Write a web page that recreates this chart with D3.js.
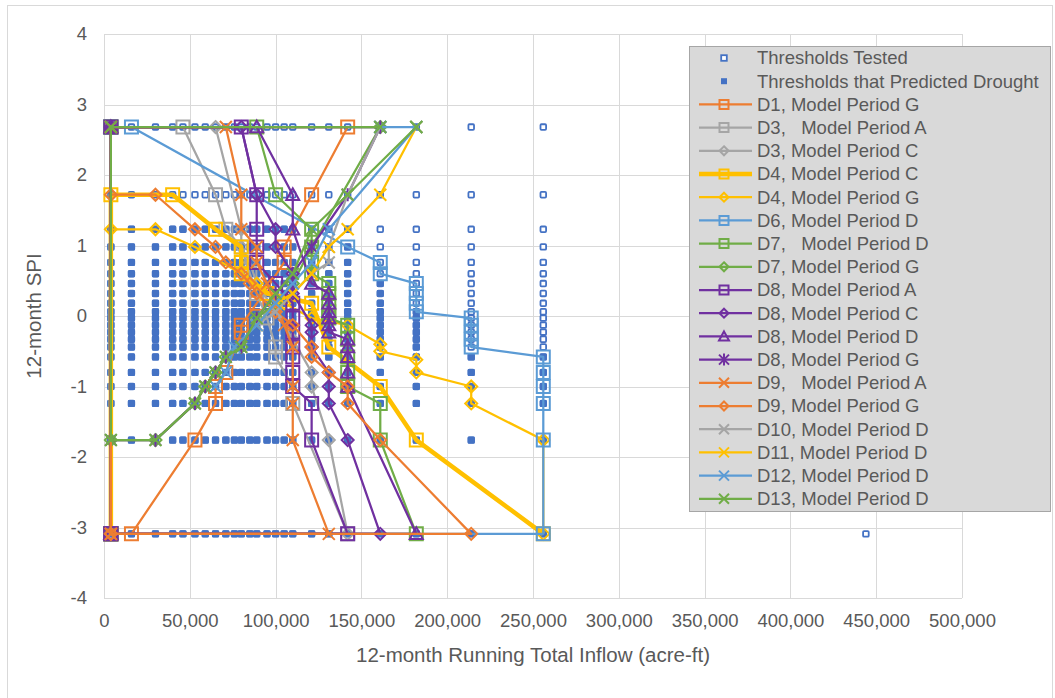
<!DOCTYPE html>
<html>
<head>
<meta charset="utf-8">
<script src="https://cdn.jsdelivr.net/npm/d3@7"></script>
<style>
  html, body { margin: 0; padding: 0; background: #ffffff; }
  svg text { font-family: "Liberation Sans", Arial, sans-serif; fill: #595959; }
</style>
</head>
<body>
<svg id="chart" width="1055" height="698"></svg>
<script>
// ---- threshold grid (12-month running total inflow x 12-month SPI) ----
const inflowColumns = [4000, 16000, 30000, 40000, 46000, 53000, 59000, 65000, 71000, 76000,
  80000, 85000, 89000, 95000, 100000, 105000, 110000, 121000, 131000, 142000,
  161000, 182000, 214000, 256000];
const spiRows = [2.68, 1.72, 1.23, 0.98, 0.76, 0.6, 0.46, 0.32, 0.18, 0.06, -0.03,
  -0.13, -0.23, -0.33, -0.44, -0.58, -0.8, -1.0, -1.24, -1.76, -3.09];
// highest SPI row that predicted drought, per inflow column
const predictedMaxSpi = [1.23, 1.23, 1.23, 1.23, 1.23, 1.23, 1.23, 1.23, 1.23, 1.23,
  1.23, 1.23, 1.23, 1.23, 1.23, 1.23, 1.23, 1.23, 1.23, 1.23,
  0.46, 0.06, -0.58, -0.58];
const extraTested = [[444000, -3.09]];

const xTicks = [0, 50000, 100000, 150000, 200000, 250000, 300000, 350000, 400000, 450000, 500000];
const yTicks = [-4, -3, -2, -1, 0, 1, 2, 3, 4];

// ---- drought threshold envelopes ----
const d1G = [[4000,-3.09],[16000,-3.09],[53000,-1.76],[65000,-1.24],[65000,-1.0],[71000,-0.8],[80000,-0.23],[80000,-0.13],[89000,0.18],[105000,0.76],[105000,0.98],[121000,1.72],[142000,2.68],[4000,2.68],[4000,-3.09]];
const d3A = [[4000,-3.09],[4000,2.68],[46000,2.68],[65000,1.72],[71000,1.23],[80000,0.98],[85000,0.6],[89000,0.32],[95000,-0.03],[100000,-0.44],[100000,-0.58],[110000,-1.0],[110000,-1.24],[142000,-3.09],[4000,-3.09]];
const d3C = [[4000,-3.09],[4000,2.68],[65000,2.68],[80000,1.23],[80000,0.98],[85000,0.76],[89000,0.46],[100000,0.06],[110000,-0.33],[121000,-0.8],[121000,-1.0],[131000,-1.76],[142000,-3.09],[4000,-3.09]];
const d4C = [[4000,-3.09],[4000,1.72],[40000,1.72],[65000,1.23],[80000,0.98],[80000,0.76],[80000,0.6],[95000,0.32],[121000,0.18],[131000,-0.44],[161000,-1.0],[182000,-1.76],[256000,-3.09]];
const d4G = [[4000,-3.09],[4000,1.23],[30000,1.23],[53000,0.98],[80000,0.6],[89000,0.46],[105000,0.18],[121000,-0.03],[142000,-0.13],[161000,-0.4],[161000,-0.5],[182000,-0.62],[182000,-0.8],[214000,-1.0],[214000,-1.24],[256000,-1.76],[256000,-3.09]];
const d6D = [[4000,2.68],[16000,2.68],[142000,0.98],[161000,0.76],[161000,0.6],[182000,0.46],[182000,0.32],[182000,0.18],[182000,0.06],[214000,-0.03],[214000,-0.13],[214000,-0.23],[214000,-0.33],[214000,-0.44],[256000,-0.58],[256000,-0.8],[256000,-1.0],[256000,-1.24],[256000,-1.76],[256000,-3.09],[4000,-3.09],[4000,2.68]];
const d7D = [[4000,-3.09],[4000,2.68],[89000,2.68],[100000,1.72],[121000,1.23],[121000,0.98],[121000,0.76],[121000,0.6],[131000,0.46],[131000,0.32],[131000,0.18],[131000,0.06],[131000,-0.03],[142000,-0.13],[142000,-0.33],[142000,-0.58],[142000,-0.8],[142000,-1.0],[161000,-1.24],[161000,-1.76],[182000,-3.09],[4000,-3.09]];
const d7G = [[4000,2.68],[4000,-1.76],[30000,-1.76],[53000,-1.24],[59000,-1.0],[65000,-0.8],[71000,-0.58],[80000,-0.44],[89000,-0.03],[100000,0.18],[110000,0.46],[121000,0.98],[161000,2.68],[4000,2.68]];
const d8A = [[4000,-3.09],[4000,2.68],[80000,2.68],[89000,1.72],[89000,1.23],[89000,0.98],[89000,0.76],[100000,0.46],[110000,0.18],[110000,-0.03],[110000,-0.23],[110000,-0.44],[110000,-0.58],[110000,-0.8],[110000,-1.0],[121000,-1.24],[121000,-1.76],[142000,-3.09],[4000,-3.09]];
const d8C = [[4000,-3.09],[4000,2.68],[80000,2.68],[89000,1.72],[100000,1.23],[100000,0.98],[110000,0.6],[110000,0.32],[121000,-0.13],[121000,-0.23],[121000,-0.44],[131000,-0.8],[131000,-1.0],[131000,-1.24],[142000,-1.76],[161000,-3.09],[4000,-3.09]];
const d8D = [[4000,-3.09],[4000,2.68],[89000,2.68],[110000,1.72],[110000,1.23],[121000,0.46],[131000,0.32],[131000,0.18],[131000,0.06],[131000,-0.03],[131000,-0.13],[131000,-0.23],[142000,-0.33],[142000,-0.44],[142000,-0.58],[142000,-0.8],[142000,-1.0],[182000,-3.09],[4000,-3.09]];
const d8G = [[4000,2.68],[4000,-1.76],[30000,-1.76],[53000,-1.24],[59000,-1.0],[65000,-0.8],[71000,-0.58],[80000,-0.44],[89000,-0.03],[100000,0.32],[110000,0.6],[121000,0.98],[142000,1.72],[161000,2.68],[4000,2.68]];
const d9A = [[4000,-3.09],[4000,2.68],[71000,2.68],[80000,1.72],[80000,1.23],[89000,0.98],[89000,0.76],[95000,0.46],[100000,0.18],[105000,-0.13],[110000,-0.44],[110000,-1.0],[110000,-1.24],[110000,-1.76],[131000,-3.09],[4000,-3.09]];
const d9G = [[4000,-3.09],[4000,1.72],[30000,1.72],[53000,1.23],[65000,0.98],[71000,0.76],[80000,0.6],[85000,0.46],[89000,0.32],[100000,0.06],[110000,-0.13],[121000,-0.44],[121000,-0.58],[131000,-0.8],[142000,-1.0],[142000,-1.24],[161000,-1.76],[214000,-3.09],[4000,-3.09]];
const d10D = [[89000,-0.13],[100000,0.06],[110000,0.32],[121000,0.6],[131000,0.76],[131000,0.98],[142000,1.72],[161000,2.68]];
const d11D = [[89000,-0.13],[100000,0.18],[110000,0.32],[121000,0.6],[131000,0.98],[142000,1.23],[161000,1.72],[182000,2.68]];
const d12D = [[65000,-1.0],[71000,-0.8],[76000,-0.44],[89000,-0.13],[100000,0.18],[110000,0.46],[121000,0.76],[131000,1.23],[182000,2.68],[161000,2.68]];
const d13D = [[161000,2.68],[4000,2.68],[4000,-1.76],[30000,-1.76],[53000,-1.24],[59000,-1.0],[65000,-0.8],[71000,-0.58],[80000,-0.44],[89000,-0.03],[100000,0.32],[110000,0.6],[121000,1.23],[142000,1.72],[182000,2.68]];

const seriesNames = ["D1, Model Period G", "D3,   Model Period A", "D3, Model Period C",
  "D4, Model Period C", "D4, Model Period G", "D6, Model Period D", "D7,   Model Period D",
  "D7, Model Period G", "D8, Model Period A", "D8, Model Period C", "D8, Model Period D",
  "D8, Model Period G", "D9,   Model Period A", "D9, Model Period G", "D10, Model Period D",
  "D11, Model Period D", "D12, Model Period D", "D13, Model Period D"];
const seriesPoints = [d1G, d3A, d3C, d4C, d4G, d6D, d7D, d7G, d8A, d8C, d8D, d8G, d9A, d9G, d10D, d11D, d12D, d13D];
const seriesColors = ["#ED7D31", "#A5A5A5", "#A5A5A5", "#FFC000", "#FFC000", "#5B9BD5", "#70AD47",
  "#70AD47", "#7030A0", "#7030A0", "#7030A0", "#7030A0", "#ED7D31", "#ED7D31", "#A5A5A5",
  "#FFC000", "#5B9BD5", "#70AD47"];
const seriesMarkers = ["square", "square", "diamond", "square", "diamond", "square", "square",
  "diamond", "square", "diamond", "triangle", "star", "x", "diamond", "x", "x", "x", "x"];
const seriesWidths = [2.25, 2.25, 2.25, 4.5, 2.25, 2.25, 2.25, 2.25, 2.25, 2.25, 2.25, 2.25,
  2.25, 2.25, 2.25, 2.25, 2.25, 2.25];

// ---- marker shapes for d3.symbol (size = half extent in px) ----
const markerTypes = {
  square: { draw(c, r) { c.moveTo(-r, -r); c.lineTo(r, -r); c.lineTo(r, r); c.lineTo(-r, r); c.closePath(); } },
  diamond: { draw(c, r) { c.moveTo(0, -r); c.lineTo(r, 0); c.lineTo(0, r); c.lineTo(-r, 0); c.closePath(); } },
  triangle: { draw(c, r) { c.moveTo(0, -r); c.lineTo(r, r * 0.8); c.lineTo(-r, r * 0.8); c.closePath(); } },
  x: { draw(c, r) { c.moveTo(-r, -r); c.lineTo(r, r); c.moveTo(r, -r); c.lineTo(-r, r); } },
  star: { draw(c, r) { c.moveTo(-r, -r); c.lineTo(r, r); c.moveTo(r, -r); c.lineTo(-r, r); c.moveTo(0, -r * 1.2); c.lineTo(0, r * 1.2); } }
};
const markerSize = { square: 6.5, diamond: 6, triangle: 6.5, x: 6, star: 5.5 };
const legendMarkerSize = { square: 4.5, diamond: 4.5, triangle: 5, x: 5, star: 5 };

const svg = d3.select("#chart");
const x = d3.scaleLinear().domain([0, 500000]).range([104, 962]);
const y = d3.scaleLinear().domain([-4, 4]).range([598, 34]);

// outer chart border
svg.append("rect").attr("x", 7.5).attr("y", 5.5).attr("width", 1045).attr("height", 700)
  .attr("fill", "#ffffff").attr("stroke", "#D9D9D9").attr("stroke-width", 1);

// gridlines
const grid = svg.append("g");
grid.selectAll("line.v").data(xTicks).join("line")
  .attr("x1", d => Math.round(x(d)) + 0.5).attr("x2", d => Math.round(x(d)) + 0.5)
  .attr("y1", y(4)).attr("y2", y(-4))
  .attr("stroke", "#D9D9D9").attr("stroke-width", 1);
grid.selectAll("line.h").data(yTicks).join("line")
  .attr("x1", x(0)).attr("x2", x(500000))
  .attr("y1", d => Math.round(y(d)) + 0.5).attr("y2", d => Math.round(y(d)) + 0.5)
  .attr("stroke", "#D9D9D9").attr("stroke-width", 1);

// axes (labels only; gridlines carry the rules)
const xAxis = svg.append("g").attr("transform", `translate(0,${y(-4) + 13})`)
  .call(d3.axisBottom(x).tickValues(xTicks).tickFormat(d3.format(",")).tickSize(0));
xAxis.select(".domain").remove();
xAxis.selectAll("text").attr("font-size", 18.5).attr("fill", "#595959")
  .attr("font-family", "Liberation Sans, Arial, sans-serif");

const yAxis = svg.append("g").attr("transform", `translate(${x(0) - 14},0)`)
  .call(d3.axisLeft(y).tickValues(yTicks).tickFormat(d => String(d)).tickSize(0));
yAxis.select(".domain").remove();
yAxis.selectAll("text").attr("font-size", 18.5).attr("fill", "#595959")
  .attr("font-family", "Liberation Sans, Arial, sans-serif");

// axis titles
svg.append("text").attr("x", 533).attr("y", 662).attr("text-anchor", "middle")
  .attr("font-size", 20.5).text("12-month Running Total Inflow (acre-ft)");
svg.append("text").attr("transform", "translate(41,316) rotate(-90)").attr("text-anchor", "middle")
  .attr("font-size", 20.5).text("12-month SPI");

// tested thresholds (hollow) and those that predicted drought (filled)
const tested = [];
const predicted = [];
inflowColumns.forEach((q, i) => {
  spiRows.forEach(s => {
    tested.push([q, s]);
    if (s <= predictedMaxSpi[i]) predicted.push([q, s]);
  });
});
extraTested.forEach(p => tested.push(p));

svg.append("g").selectAll("rect").data(tested).join("rect")
  .attr("x", d => x(d[0]) - 2.8).attr("y", d => y(d[1]) - 2.8)
  .attr("width", 5.6).attr("height", 5.6).attr("rx", 1)
  .attr("fill", "#ffffff").attr("stroke", "#4472C4").attr("stroke-width", 1.8);
svg.append("g").selectAll("rect").data(predicted).join("rect")
  .attr("x", d => x(d[0]) - 3.5).attr("y", d => y(d[1]) - 3.5)
  .attr("width", 7).attr("height", 7).attr("rx", 1)
  .attr("fill", "#4472C4");

// threshold envelope series
const line = d3.line().x(d => x(d[0])).y(d => y(d[1]));
seriesPoints.forEach((pts, i) => {
  const g = svg.append("g");
  g.append("path").attr("d", line(pts)).attr("fill", "none")
    .attr("stroke", seriesColors[i]).attr("stroke-width", seriesWidths[i])
    .attr("stroke-linejoin", "round");
  const type = seriesMarkers[i];
  const sym = d3.symbol().type(markerTypes[type]).size(markerSize[type]);
  g.selectAll("path.m").data(pts).join("path").attr("class", "m")
    .attr("transform", d => `translate(${x(d[0])},${y(d[1])})`)
    .attr("d", sym).attr("fill", "none")
    .attr("stroke", seriesColors[i]).attr("stroke-width", 2);
});

// legend
const legend = svg.append("g");
legend.append("rect").attr("x", 689.5).attr("y", 46.5).attr("width", 361).attr("height", 465)
  .attr("fill", "#D9D9D9").attr("stroke", "#A6A6A6").attr("stroke-width", 1);
const rowY = i => 58 + i * 23.2;
const textX = 757;

legend.append("rect").attr("x", 724 - 2.8).attr("y", rowY(0) - 2.8).attr("width", 5.6).attr("height", 5.6)
  .attr("fill", "#ffffff").attr("stroke", "#4472C4").attr("stroke-width", 1.8);
legend.append("rect").attr("x", 724 - 3).attr("y", rowY(1) - 3).attr("width", 6).attr("height", 6)
  .attr("fill", "#4472C4");
["Thresholds Tested", "Thresholds that Predicted Drought"].forEach((t, i) => {
  legend.append("text").attr("x", textX).attr("y", rowY(i)).attr("dy", "0.35em")
    .attr("font-size", 18.5).text(t);
});

seriesNames.forEach((name, i) => {
  const yy = rowY(i + 2);
  legend.append("line").attr("x1", 699).attr("x2", 752).attr("y1", yy).attr("y2", yy)
    .attr("stroke", seriesColors[i]).attr("stroke-width", seriesWidths[i]);
  const type = seriesMarkers[i];
  legend.append("path").attr("transform", `translate(724,${yy})`)
    .attr("d", d3.symbol().type(markerTypes[type]).size(legendMarkerSize[type]))
    .attr("fill", "none").attr("stroke", seriesColors[i]).attr("stroke-width", 2);
  legend.append("text").attr("x", textX).attr("y", yy).attr("dy", "0.35em")
    .attr("font-size", 18.5).attr("xml:space", "preserve").style("white-space", "pre")
    .text(name);
});
</script>
</body>
</html>
